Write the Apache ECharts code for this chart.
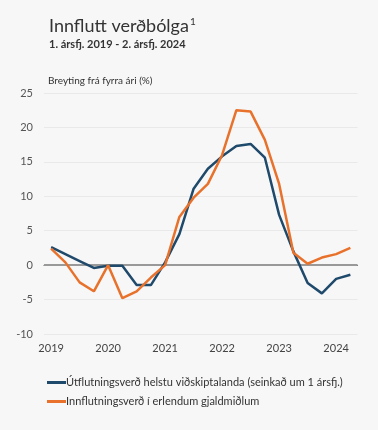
<!DOCTYPE html>
<html>
<head>
<meta charset="utf-8">
<script src="https://cdn.jsdelivr.net/npm/echarts@6/dist/echarts.min.js"></script>
<style>
  html, body { margin: 0; padding: 0; background: #f7f7f7; }
  #chart { width: 378px; height: 430px; }
</style>
</head>
<body>
<div id="chart"></div>
<script>
// Quarterly observations, 1. ársfj. 2019 - 2. ársfj. 2024
const quarters = [
  '2019-1', '2019-2', '2019-3', '2019-4',
  '2020-1', '2020-2', '2020-3', '2020-4',
  '2021-1', '2021-2', '2021-3', '2021-4',
  '2022-1', '2022-2', '2022-3', '2022-4',
  '2023-1', '2023-2', '2023-3', '2023-4',
  '2024-1', '2024-2'
];

// Export prices of main trading partners (lagged one quarter), % y/y
const exportPrices = [
  2.6, 1.6, 0.6, -0.4,
  -0.1, -0.1, -2.9, -2.9,
  0.4, 4.5, 11.1, 14.0,
  15.8, 17.3, 17.6, 15.6,
  7.3, 2.0, -2.6, -4.1,
  -2.0, -1.4
];

// Import prices in foreign currency, % y/y
const importPrices = [
  2.4, 0.4, -2.5, -3.8,
  0.0, -4.8, -3.8, -1.8,
  0.0, 7.0, 9.8, 11.8,
  16.0, 22.5, 22.3, 18.2,
  11.8, 1.8, 0.2, 1.1,
  1.6, 2.5
];

const seriesNames = [
  'Útflutningsverð helstu viðskiptalanda (seinkað um 1 ársfj.)',
  'Innflutningsverð í erlendum gjaldmiðlum'
];

const FONT = 'Lato';
const chart = echarts.init(document.getElementById('chart'), null, { renderer: 'canvas' });

chart.setOption({
  backgroundColor: '#f7f7f7',
  animation: false,
  textStyle: { fontFamily: FONT },
  title: {
    left: 44,
    top: 12,
    text: 'Innflutt verðbólga{sup|1}',
    textStyle: {
      fontFamily: FONT,
      fontSize: 18,
      fontWeight: 'normal',
      color: '#333',
      rich: {
        sup: { fontFamily: FONT, fontSize: 10, color: '#333', verticalAlign: 'top', padding: [0, 0, 8, 1] }
      }
    },
    subtext: '1. ársfj. 2019 - 2. ársfj. 2024',
    subtextStyle: { fontFamily: FONT, fontSize: 11, fontWeight: 'bold', color: '#333' },
    itemGap: 4
  },
  grid: { left: 44, right: 20.5, top: 93, bottom: 96 },
  legend: {
    left: 42,
    top: 372,
    orient: 'vertical',
    itemWidth: 19,
    itemHeight: 3,
    itemGap: 8,
    icon: 'rect',
    textStyle: { fontFamily: FONT, fontSize: 11, color: '#333', padding: [0, 0, 0, -5] },
    data: seriesNames
  },
  xAxis: {
    type: 'category',
    data: quarters,
    boundaryGap: true,
    axisLine: { lineStyle: { color: '#555', width: 1 } },
    axisTick: { interval: 3, length: 4, lineStyle: { color: '#555' } },
    axisLabel: {
      interval: 3,
      margin: 9,
      fontFamily: FONT,
      fontSize: 11,
      color: '#444',
      formatter: v => v.split('-')[0]
    },
    splitLine: { show: false }
  },
  yAxis: {
    type: 'value',
    min: -10,
    max: 25,
    interval: 5,
    name: 'Breyting frá fyrra ári (%)',
    nameLocation: 'end',
    nameGap: 7,
    nameTextStyle: { fontFamily: FONT, fontSize: 10, color: '#333', align: 'left', padding: [0, 0, 0, 4] },
    axisLine: { show: false },
    axisTick: { show: false },
    axisLabel: { margin: 11, fontFamily: FONT, fontSize: 11, color: '#555' },
    splitLine: { lineStyle: { color: '#e9e9e9', width: 1 } }
  },
  series: [
    {
      name: seriesNames[0],
      type: 'line',
      data: exportPrices,
      symbol: 'none',
      lineStyle: { color: '#1f4a6b', width: 2.5 },
      itemStyle: { color: '#1f4a6b' },
      z: 3,
      markLine: {
        silent: true,
        symbol: 'none',
        label: { show: false },
        lineStyle: { color: '#999', width: 2, type: 'solid' },
        data: [{ yAxis: 0 }],
        z: 1
      }
    },
    {
      name: seriesNames[1],
      type: 'line',
      data: importPrices,
      symbol: 'none',
      lineStyle: { color: '#e8722c', width: 2.5 },
      itemStyle: { color: '#e8722c' },
      z: 4
    }
  ]
});
</script>
</body>
</html>
